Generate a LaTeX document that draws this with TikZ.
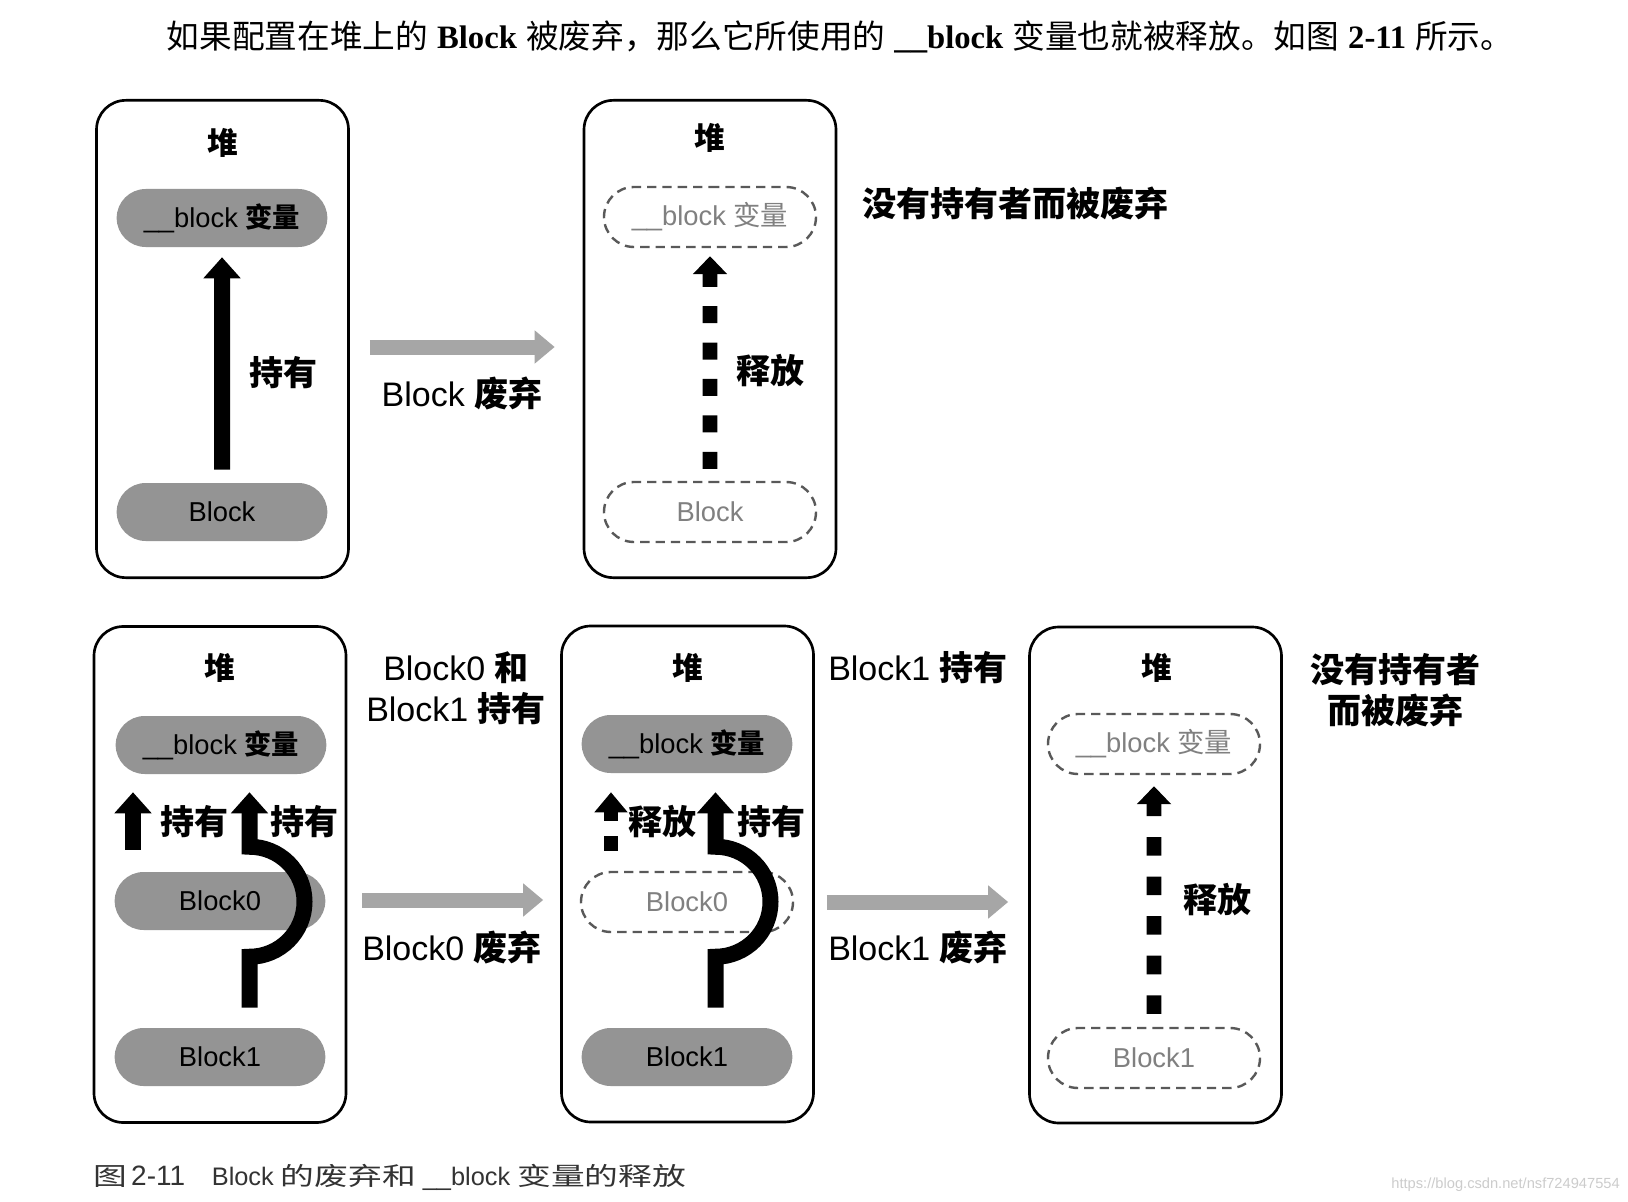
\documentclass[tikz,border=0pt]{standalone}
\usepackage{fontspec}
\setmainfont{Liberation Sans}
\newfontfamily\zhfont{Noto Sans CJK SC}
\newfontfamily\zhwide{Noto Sans CJK SC}[FakeStretch=1.35]
\newfontfamily\enserif{Liberation Serif}
\usetikzlibrary{arrows.meta,shapes.misc,calc}
\newcommand{\zh}[1]{{\zhfont #1}}
\newcommand{\zhb}[1]{{\zhfont\bfseries #1}}
\newcommand{\zhcap}[1]{{\zhwide\fontsize{18.75}{22}\selectfont #1}}
\tikzset{
  heap/.style={draw, line width=2pt, rounded corners=22pt, minimum width=189pt, inner sep=0pt},
  pill/.style={rounded rectangle, fill=black!42, minimum width=158pt, minimum height=43.5pt, inner sep=0pt, font=\fontsize{20.5}{24}\selectfont},
  gone/.style={rounded rectangle, draw=black!65, line width=1.8pt, dash pattern=on 7pt off 4.5pt, minimum width=159pt, minimum height=45pt, inner sep=0pt, text=black!50, font=\fontsize{20.5}{24}\selectfont},
  lbl/.style={inner sep=0pt, font=\fontsize{25.5}{30.75}\selectfont, align=center},
  title/.style={inner sep=0pt, font=\fontsize{23}{27}\selectfont},
  hold/.style={line width=12pt, -{Triangle[width=27pt,length=15.75pt]}},
  free/.style={line width=11pt, dash pattern=on 13.9pt off 15.75pt, -{Triangle[width=25pt,length=13.5pt]}},
  fade/.style={draw=black!35, line width=11.25pt, -{Triangle[width=24pt,length=15pt]}},
}
\begin{document}
\begin{tikzpicture}[x=0.75pt,y=0.75pt,yscale=-1]
\useasboundingbox (0,0) rectangle (1628,1202);
\fill[white] (0,0) rectangle (1628,1202);

% lead sentence
\node[inner sep=0pt, font=\fontsize{24.5}{28}\selectfont] (lead) at (840,37) {\zh{如果配置在堆上的} {\enserif\bfseries Block} \zh{被废弃，那么它所使用的} {\enserif\bfseries \_\_block} \zh{变量也就被释放。如图} {\enserif\bfseries 2-11} \zh{所示。}};

% heap boxes
\node[heap, minimum height=358pt] (heap1) at (222.5,339) {};
\node[heap, minimum height=358pt] (heap2) at (710,339) {};
\node[heap, minimum height=372pt] (heap3) at (220,874.5) {};
\node[heap, minimum height=372pt] (heap4) at (687.5,874) {};
\node[heap, minimum height=372pt] (heap5) at (1155.5,875) {};

\node[title] (t1) at (223,143) {\zhb{堆}};
\node[title] (t2) at (710,138) {\zhb{堆}};
\node[title] (t3) at (220,668) {\zhb{堆}};
\node[title] (t4) at (688,668) {\zhb{堆}};
\node[title] (t5) at (1157,668) {\zhb{堆}};

% top left: Block holds the variable
\node[pill] (var1) at (222,218) {\_\_block \zhb{变量}};
\node[pill] (blk1) at (222,512) {Block};
\draw[hold, shorten <=9.75pt, shorten >=7.5pt] (blk1) -- (var1);
\node[lbl] (h1) at (283,373) {\zhb{持有}};

\draw[fade] ($(heap1.east)+(20,8)$) -- ($(heap2.west)+(-28,8)$);
\node[lbl] (d1) at (462,393) {Block \zhb{废弃}};

% top right: released
\node[gone] (var2) at (710,217) {\_\_block \zh{变量}};
\node[gone] (blk2) at (710,512) {Block};
\draw[free, dash pattern=on 12.75pt off 14.55pt, shorten <=9pt, shorten >=6pt] (blk2) -- (var2);
\node[lbl] (r2) at (770,371) {\zhb{释放}};
\node[lbl] (n1) at (1015,203) {\zhb{没有持有者而被废弃}};

% bottom left: two holders
\node[pill] (var3) at (221,745) {\_\_block \zhb{变量}};
\node[pill] (b03) at (220,901) {Block0};
\node[pill] (b13) at (220,1057) {Block1};
\draw[hold] ($(b03.north)+(-87,-22)$) -- ($(var3.south)+(-88,18)$);
\draw[hold, shorten <=15pt] ($(b13.north)+(29.5,0)$) -- ++(0,-71) arc[start angle=90, end angle=-90, radius=55] -- ($(var3.south)+(28.5,18)$);
\node[lbl] (h3a) at (194.5,822) {\zhb{持有}};
\node[lbl] (h3b) at (304.5,822) {\zhb{持有}};
\node[lbl] (both) at (456,688.5) {Block0 \zhb{和}\\Block1 \zhb{持有}};

\draw[fade] ($(heap3.east)+(15,25.5)$) -- ($(heap4.west)+(-17,26)$);
\node[lbl] (d3) at (452,947) {Block0 \zhb{废弃}};

% bottom middle: Block0 gone
\node[pill] (var4) at (687,744) {\_\_block \zhb{变量}};
\node[gone] (b04) at (687,902) {Block0};
\node[pill] (b14) at (687,1057) {Block1};
\draw[free, dash pattern=on 11.25pt off 11.25pt, -{Triangle[width=24pt,length=15pt]}] ($(b04.north)+(-76,-20)$) -- ($(var4.south)+(-76,19)$);
\draw[hold, shorten <=15pt] ($(b14.north)+(28.5,0)$) -- ++(0,-71) arc[start angle=90, end angle=-90, radius=55] -- ($(var4.south)+(28.5,19)$);
\node[lbl] (r4) at (662,822) {\zhb{释放}};
\node[lbl] (h4a) at (771,822) {\zhb{持有}};
\node[lbl] (h4) at (918,668) {Block1 \zhb{持有}};

\draw[fade] ($(heap4.east)+(12,28)$) -- ($(heap5.west)+(-20,27)$);
\node[lbl] (d4) at (918,947) {Block1 \zhb{废弃}};

% bottom right: all gone
\node[gone] (var5) at (1154,744) {\_\_block \zh{变量}};
\node[gone] (b15) at (1154,1058) {Block1};
\draw[free, shorten <=9.75pt, shorten >=8.25pt] (b15) -- (var5);
\node[lbl] (r5) at (1217,900) {\zhb{释放}};
\node[lbl] (n5) at (1395,690) {\zhb{没有持有者}\\\zhb{而被废弃}};

% caption
\node[anchor=west, inner sep=0pt, text=black!80, font=\fontsize{19}{22}\selectfont] (cap) at (93,1177) {\zhcap{图}\,{\fontsize{21}{22}\selectfont 2-11}\hspace{20pt}Block \zhcap{的废弃和} \_\_block \zhcap{变量的释放}};
\node[anchor=east, inner sep=0pt, text=black!20, font=\fontsize{11}{13}\selectfont] (wm) at (1620,1185) {https://blog.csdn.net/nsf724947554};
\end{tikzpicture}
\end{document}
